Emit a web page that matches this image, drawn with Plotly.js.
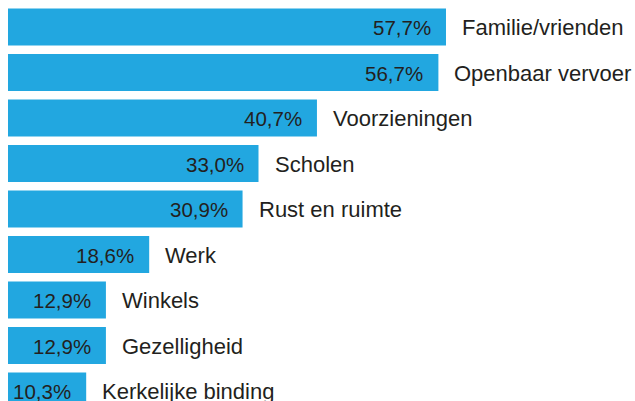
<!DOCTYPE html>
<html>
<head>
<meta charset="utf-8">
<script src="https://cdn.plot.ly/plotly-3.0.1.min.js"></script>
<style>
  html, body { margin: 0; padding: 0; background: #fff; }
  #chart { width: 635px; height: 401px; }
</style>
</head>
<body>
<div id="chart"></div>
<script>
const categories = ['Familie/vrienden', 'Openbaar vervoer', 'Voorzieningen', 'Scholen',
  'Rust en ruimte', 'Werk', 'Winkels', 'Gezelligheid', 'Kerkelijke binding'];
const values = [57.7, 56.7, 40.7, 33.0, 30.9, 18.6, 12.9, 12.9, 10.3];

const barColor = '#22a7e0';
const textColor = '#231f20';
const font = 'Liberation Sans, Arial, sans-serif';

const fmt = v => v.toFixed(1).replace('.', ',') + '%';

const data = [{
  type: 'bar',
  orientation: 'h',
  x: values,
  y: categories,
  width: 0.81,
  marker: { color: barColor },
  hoverinfo: 'none'
}];

// waarde in de balk, naam rechts ervan
const annotations = [];
categories.forEach((c, i) => {
  annotations.push({
    x: values[i], y: c, text: fmt(values[i]),
    xanchor: 'right', yanchor: 'middle', xshift: -13, yshift: -1,
    showarrow: false, font: { family: font, size: 20.5, color: textColor }
  });
  annotations.push({
    x: values[i], y: c, text: c,
    xanchor: 'left', yanchor: 'middle', xshift: 14, yshift: -1,
    showarrow: false, font: { family: font, size: 22, color: textColor }
  });
});

const layout = {
  width: 635, height: 401,
  margin: { l: 0, r: 0, t: 0, b: 0 },
  paper_bgcolor: '#fff', plot_bgcolor: '#fff',
  showlegend: false,
  xaxis: { range: [-1.054, 82.6], visible: false, fixedrange: true },
  yaxis: { type: 'category', range: [8.22, -0.593], visible: false, fixedrange: true },
  annotations: annotations
};

Plotly.newPlot('chart', data, layout, { staticPlot: true });
</script>
</body>
</html>
